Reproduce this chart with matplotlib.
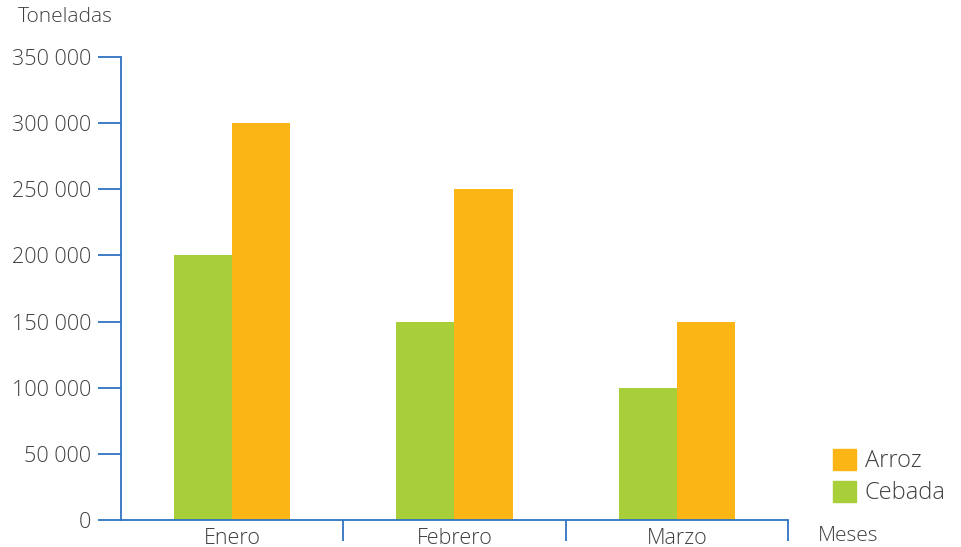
"""
    Bar chart: toneladas de cebada y arroz por mes
"""
import matplotlib.pyplot as plt
from matplotlib.patches import Patch
from matplotlib.ticker import FuncFormatter
import numpy as np

meses = ["Enero", "Febrero", "Marzo"]
cebada = [200000, 150000, 100000]
arroz = [300000, 250000, 150000]
y_ticks = [0, 50000, 100000, 150000, 200000, 250000, 300000, 350000]

GREEN = '#a8ce3a'
ORANGE = '#fbb616'
AXIS = '#2f74c0'
TEXT = '#404040'

plt.rcParams['font.family'] = ['Open Sans', 'DejaVu Sans']
plt.rcParams['font.weight'] = 'light'

fig = plt.figure(figsize=(9.62, 5.47), dpi=100)
ax = fig.add_axes([121 / 962, 27 / 547, 667 / 962, 463 / 547])

x = np.arange(len(meses)) + 0.5
w = 0.261
ax.bar(x - w / 2, cebada, width=w, color=GREEN, zorder=1)
ax.bar(x + w / 2, arroz, width=w, color=ORANGE, zorder=1)

ax.set_xlim(0, 3)
ax.set_ylim(0, 350000)

for s in ['top', 'right']:
    ax.spines[s].set_visible(False)
for s in ['left', 'bottom']:
    ax.spines[s].set_color(AXIS)
    ax.spines[s].set_linewidth(1.3)
    ax.spines[s].set_zorder(3)

ax.set_yticks(y_ticks)
ax.yaxis.set_major_formatter(FuncFormatter(lambda v, p: f"{int(v):,}".replace(",", " ")))
ax.tick_params(axis='y', length=16.5, width=1.3, color=AXIS, pad=5,
               labelsize=15.5, labelcolor=TEXT)

ax.set_xticks(x)
ax.set_xticklabels(meses)
ax.set_xticks([1, 2, 3], minor=True)
ax.tick_params(axis='x', which='major', length=0, pad=5.5, labelsize=15.5, labelcolor=TEXT)
ax.tick_params(axis='x', which='minor', length=15, width=1.3, color=AXIS)

fig.text(18 / 962, 1 - 17 / 547, "Toneladas", fontsize=15, color=TEXT, va='center', ha='left')
fig.text(818 / 962, 1 - 536 / 547, "Meses", fontsize=15, color=TEXT, va='center', ha='left')

handles = [Patch(color=ORANGE, label="Arroz"), Patch(color=GREEN, label="Cebada")]
fig.legend(handles=handles, loc='lower left', bbox_to_anchor=(821 / 962, 30 / 547),
           frameon=False, fontsize=17, labelcolor=TEXT, handlelength=1.0,
           handleheight=1.0, handletextpad=0.35, labelspacing=0.3, borderpad=0)

plt.savefig('out.png', dpi=100)
